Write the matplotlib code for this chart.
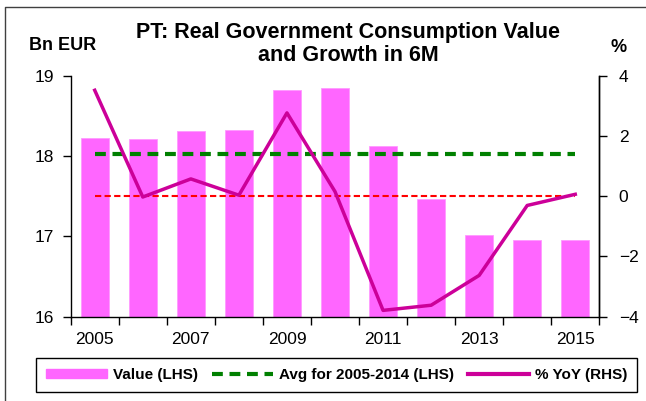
import matplotlib
matplotlib.use('Agg')
import matplotlib.pyplot as plt
from matplotlib.lines import Line2D
import numpy as np

plt.rcParams['font.family'] = ['Liberation Sans', 'DejaVu Sans']

years = [2005, 2006, 2007, 2008, 2009, 2010, 2011, 2012, 2013, 2014, 2015]
value_bn = [18.22, 18.21, 18.31, 18.32, 18.82, 18.85, 18.12, 17.46, 17.01, 16.95, 16.96]
yoy_pct = [3.51, -0.03, 0.57, 0.03, 2.76, 0.15, -3.79, -3.62, -2.63, -0.31, 0.06]
avg_span = (2005, 2014)

BAR = '#FF66FF'
LINE = '#CC0099'
GREEN = '#008000'
RED = '#FF0000'

W, H = 646, 401
fig = plt.figure(figsize=(W / 100, H / 100), dpi=100)

# plot area in pixel coords of the reference
x0, x1, y0, y1 = 70.7, 599.3, 316.7, 75.5
ax = fig.add_axes([x0 / W, 1 - y0 / H, (x1 - x0) / W, (y0 - y1) / H])
ax2 = ax.twinx()

x = np.arange(len(years))
ax.bar(x, value_bn, width=0.58, color=BAR, edgecolor='#FF99FF', lw=0.6, zorder=2)

i0, i1 = years.index(avg_span[0]), years.index(avg_span[1])
avg = float(np.mean(value_bn[i0:i1 + 1]))
ax.plot([x[0], x[-1]], [avg, avg], color=GREEN, lw=3, dashes=(2.6, 1.6), zorder=3)

ax2.plot([x[0], x[-1]], [0, 0], color=RED, lw=1.5, dashes=(3, 1.6), zorder=3)
ax2.plot(x, yoy_pct, color=LINE, lw=2.5, zorder=4)

ax.set_xlim(-0.5, len(years) - 0.5)
ax.set_ylim(16, 19)
ax.set_yticks([16, 17, 18, 19])
ax2.set_ylim(-4, 4)
ax2.set_yticks([-4, -2, 0, 2, 4])

# Excel-style category axis: marks between categories, labels every other year
ax.set_xticks(np.arange(-0.5, len(years), 1.0))
ax.set_xticklabels([])
ax.set_xticks(x[::2], minor=True)
ax.set_xticklabels([str(y) for y in years[::2]], minor=True)
ax.tick_params(axis='x', which='major', length=6, width=1, direction='out')
ax.tick_params(axis='x', which='minor', length=0, pad=11, labelsize=12.5)
ax.tick_params(axis='y', length=6, width=1, pad=6, labelsize=12.5)
ax2.tick_params(axis='y', length=6, width=1, pad=8, labelsize=12.5)

for a in (ax, ax2):
    a.spines['top'].set_visible(False)
    for s in ('left', 'right', 'bottom'):
        a.spines[s].set_linewidth(1)
ax2.spines['left'].set_visible(False)
ax2.spines['bottom'].set_visible(False)

fig.text(348 / W, 1 - 44 / H, 'PT: Real Government Consumption Value\nand Growth in 6M',
         ha='center', va='center', fontsize=15.5, fontweight='bold', linespacing=1.18)
fig.text(63 / W, 1 - 46 / H, 'Bn EUR', ha='center', va='center',
         fontsize=13, fontweight='bold')
fig.text(619 / W, 1 - 47 / H, '%', ha='center', va='center',
         fontsize=13, fontweight='bold')

handles = [
    plt.Rectangle((0, 0), 1, 1, color=BAR),
    Line2D([], [], color=GREEN, lw=3, dashes=(2.6, 1.6)),
    Line2D([], [], color=LINE, lw=3),
]
labels = ['Value (LHS)', 'Avg for 2005-2014 (LHS)', '% YoY (RHS)']
leg = fig.legend(handles, labels, ncol=3, loc='center',
                 bbox_to_anchor=((37.3 + 635.7) / 2 / W, 1 - (358.3 + 391.7) / 2 / H),
                 prop={'weight': 'bold', 'size': 11}, frameon=True, fancybox=False,
                 edgecolor='black', framealpha=1, handlelength=4.0, handleheight=0.5,
                 handletextpad=0.4, columnspacing=0.9, borderpad=0.65, borderaxespad=0)
leg.get_frame().set_linewidth(1)

# outer chart border (left and top edges visible in the crop)
fig.add_artist(Line2D([5 / W, 5 / W, 1.0], [0.0, 1 - 7 / H, 1 - 7 / H],
                      transform=fig.transFigure, color='#404040', lw=1))

fig.savefig('out.png', dpi=100)
